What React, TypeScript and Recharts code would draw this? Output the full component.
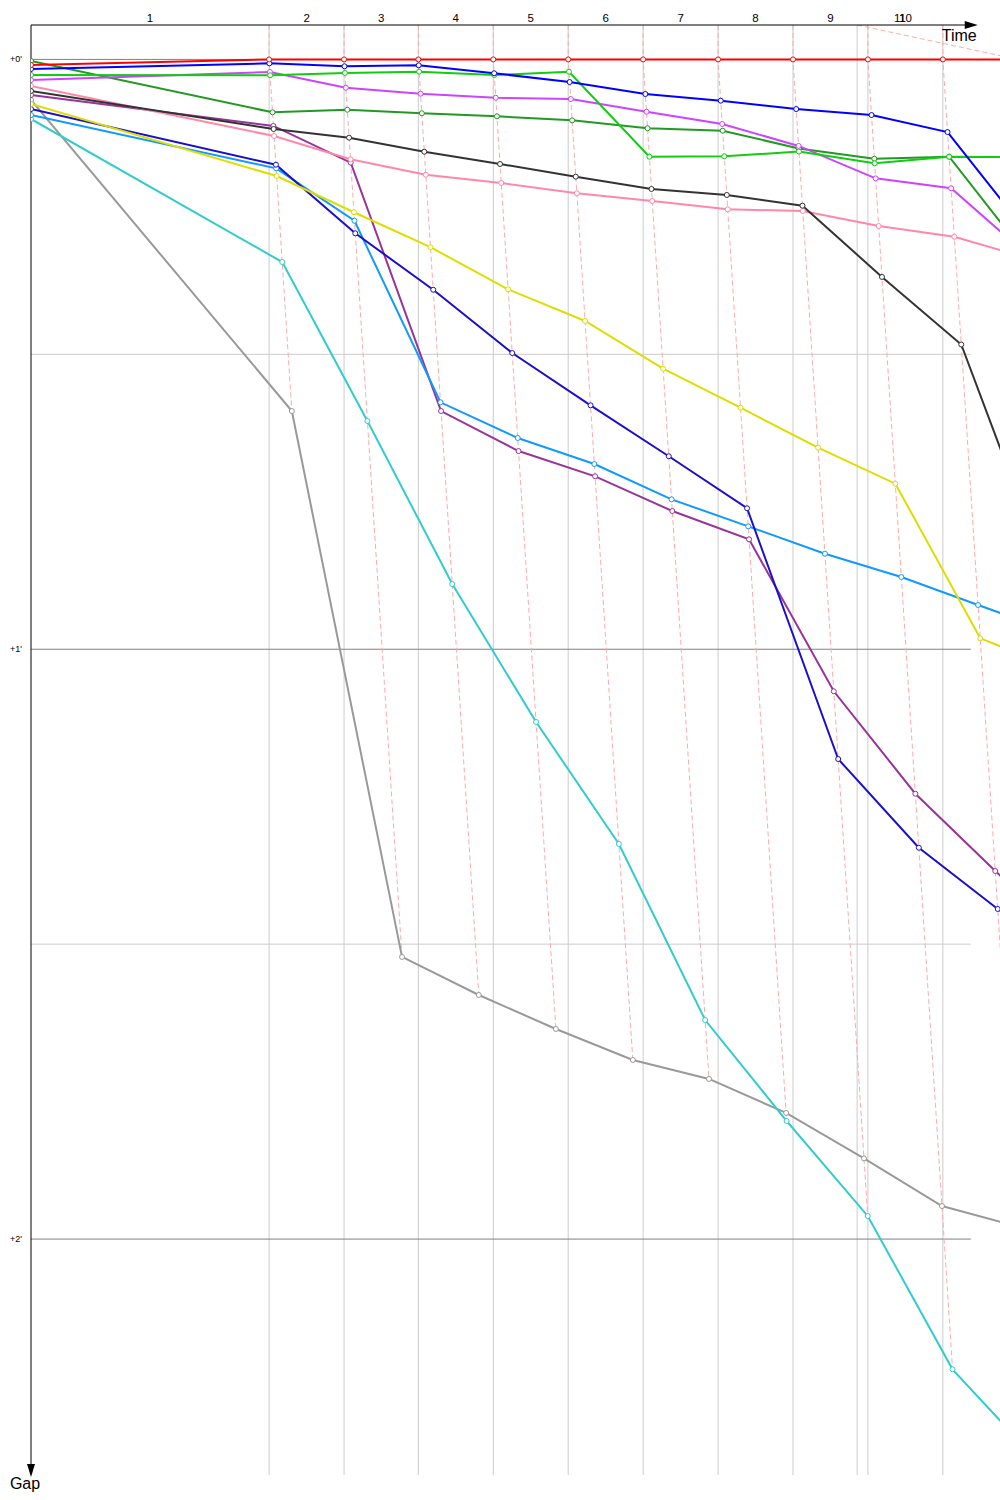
import React from 'react';
import { LineChart, Line, XAxis, YAxis, ReferenceLine } from 'recharts';

// cumulative leader time (s) at the end of each lap (index 0 = start)
const leaderLapTimes = [0, 375, 493, 610, 728, 846, 964, 1082, 1200, 1318, 1436, 1554];
// time at which each lap marker starts on the time axis
const lapMarkTimes = [0, 375, 493, 610, 728, 846, 964, 1082, 1200, 1318, 1436, 1301];
const lapLabels = ['1', '2', '3', '4', '5', '6', '7', '8', '9', '10', '11'];

const gapTicks = [0, 60, 120];
const gapTickLabels = ["+0'", "+1'", "+2'"];
const majorGaps = [0, 60, 120];
const minorGaps = [30, 90];

// gaps to leader (s), index = lap (0 = start)
const gapsRed = [0.57, 0, 0, 0, 0, 0, 0, 0, 0, 0, 0, 0];
const gapsBlue = [0.98, 0.4, 0.7, 0.6, 1.41, 2.3, 3.52, 4.2, 5.05, 5.66, 7.39, 17.9];
const gapsGreen = [1.59, 1.62, 1.38, 1.25, 1.59, 1.25, 9.9, 9.86, 9.37, 10.57, 9.9, 9.95];
const gapsMagenta = [2.1, 1.28, 2.88, 3.49, 3.9, 4.03, 5.32, 6.57, 8.8, 12.1, 13.11, 20.2];
const gapsDarkGreen = [0.16, 5.38, 5.12, 5.48, 5.79, 6.2, 7.0, 7.25, 9.06, 10.1, 9.9, 20.5];
const gapsBlack = [3.21, 7.08, 7.96, 9.39, 10.64, 11.93, 13.18, 13.79, 14.88, 22.13, 29.0, 53.5];
const gapsPink = [2.7, 7.79, 10.16, 11.73, 12.57, 13.62, 14.4, 15.25, 15.42, 16.95, 18.04, 20.3];
const gapsPurple = [3.62, 6.77, 10.5, 35.77, 39.84, 42.41, 45.94, 48.82, 64.28, 74.7, 82.56, 90];
const gapsYellow = [4.54, 11.86, 15.55, 19.1, 23.39, 26.61, 31.46, 35.43, 39.5, 43.16, 58.89, 62.0];
const gapsDarkBlue = [5.05, 10.71, 17.69, 23.43, 29.87, 35.19, 40.37, 45.66, 71.17, 80.19, 86.42, 92];
const gapsLightBlue = [5.66, 11.08, 16.41, 34.88, 38.51, 41.16, 44.75, 47.5, 50.28, 52.65, 55.5, 58.3];
const gapsCyan = [6.06, 20.61, 36.78, 53.37, 67.4, 79.81, 97.72, 107.99, 117.65, 133.25, 142.1];
const gapsGray = [4.13, 35.77, 91.3, 95.17, 98.63, 101.78, 103.71, 107.17, 111.79, 116.64, 118.75];

const seriesGaps = [gapsGray, gapsCyan, gapsPurple, gapsLightBlue, gapsDarkBlue, gapsYellow, gapsPink, gapsBlack, gapsDarkGreen, gapsMagenta, gapsGreen, gapsBlue, gapsRed];
const seriesColors = ['#999999', '#33cccc', '#993399', '#1199ff', '#1a0fcc', '#dddd00', '#ff88aa', '#333333', '#229922', '#cc44ff', '#11cc11', '#0000ff', '#ff0000'];

const X_MIN = 0;
const X_MAX = 1526;
const Y_MIN = -3.5;
const Y_MAX = 144;
const GRID_END = 1480;
const TIME_ARROW_END = 1491;
const GAP_ARROW_END = 144.2;

const FONT = '"Liberation Sans", Arial, sans-serif';

const seriesData = seriesGaps.map((gaps) =>
  gaps.map((g, k) => ({ t: k === 0 ? 0 : leaderLapTimes[k] + g, g }))
);

const connectorData = lapMarkTimes.slice(1).map((mark, i) => {
  const lap = i + 1;
  const pts = seriesGaps
    .filter((gaps) => gaps[lap] !== undefined)
    .map((gaps) => ({ t: leaderLapTimes[lap] + gaps[lap], g: gaps[lap] }))
    .sort((a, b) => a.g - b.g);
  return [{ t: mark, g: Y_MIN }, ...pts];
});

const tickPositions = lapLabels.map((_, i) => (lapMarkTimes[i] + lapMarkTimes[i + 1]) / 2);

const XTick = (props: any) => {
  const { x, payload } = props;
  const idx = tickPositions.indexOf(payload.value);
  return (
    <text x={x} y={22} textAnchor="middle" fontSize={11.5} fontFamily={FONT} fill="#000">
      {lapLabels[idx]}
    </text>
  );
};

const YTick = (props: any) => {
  const { y, payload } = props;
  const idx = gapTicks.indexOf(payload.value);
  return (
    <text x={22} y={y + 3} textAnchor="end" fontSize={9} fontFamily={FONT} fill="#000">
      {gapTickLabels[idx]}
    </text>
  );
};

const TimeArrow = (p: any) => {
  const { x1, y1, x2, y2 } = p;
  return (
    <g>
      <line x1={x1} y1={y1} x2={x2 - 12} y2={y2} stroke="#000" strokeWidth={1} />
      <polygon points={`${x2},${y2} ${x2 - 13},${y2 - 4} ${x2 - 13},${y2 + 4}`} fill="#000" />
      <text x={x2 - 1} y={y2 + 16} textAnchor="end" fontSize={16} fontFamily={FONT} fill="#000">
        Time
      </text>
    </g>
  );
};

const GapArrow = (p: any) => {
  const { x1, y1, x2, y2 } = p;
  return (
    <g>
      <line x1={x1} y1={y1} x2={x2} y2={y2 - 12} stroke="#000" strokeWidth={1} />
      <polygon points={`${x2},${y2} ${x2 - 4},${y2 - 13} ${x2 + 4},${y2 - 13}`} fill="#000" />
      <text x={x2 - 6} y={y2 + 12} textAnchor="middle" fontSize={16} fontFamily={FONT} fill="#000">
        Gap
      </text>
    </g>
  );
};

export default function App() {
  return (
    <div style={{ position: 'absolute', left: 0, top: 0, width: 1000, height: 1500, background: '#fff' }}>
      <LineChart width={1000} height={1500} margin={{ top: 0, right: 0, bottom: 25, left: 0 }}>
        <XAxis
          type="number"
          dataKey="t"
          orientation="top"
          domain={[X_MIN, X_MAX]}
          allowDataOverflow
          ticks={tickPositions}
          interval={0}
          axisLine={false}
          tickLine={false}
          height={25}
          tick={<XTick />}
        />
        <YAxis
          type="number"
          dataKey="g"
          domain={[Y_MIN, Y_MAX]}
          reversed
          allowDataOverflow
          ticks={gapTicks}
          interval={0}
          axisLine={false}
          tickLine={false}
          width={31}
          tick={<YTick />}
        />
        {lapMarkTimes.slice(1).map((t, i) => (
          <ReferenceLine
            key={`v${i}`}
            segment={[{ x: t, y: Y_MIN }, { x: t, y: Y_MAX }]}
            stroke="#cccccc"
            strokeWidth={1}
            ifOverflow="visible"
          />
        ))}
        {minorGaps.map((g, i) => (
          <ReferenceLine
            key={`hm${i}`}
            segment={[{ x: X_MIN, y: g }, { x: GRID_END, y: g }]}
            stroke="#cccccc"
            strokeWidth={1}
            ifOverflow="visible"
          />
        ))}
        {majorGaps.map((g, i) => (
          <ReferenceLine
            key={`hM${i}`}
            segment={[{ x: X_MIN, y: g }, { x: GRID_END, y: g }]}
            stroke="#808080"
            strokeWidth={1}
            ifOverflow="visible"
          />
        ))}
        {connectorData.map((d, i) => (
          <Line
            key={`c${i}`}
            data={d}
            dataKey="g"
            type="linear"
            stroke="#ffaaaa"
            strokeWidth={1}
            strokeDasharray="5 3"
            dot={false}
            activeDot={false}
            isAnimationActive={false}
          />
        ))}
        {seriesData.map((d, i) => (
          <Line
            key={`s${i}`}
            data={d}
            dataKey="g"
            type="linear"
            stroke={seriesColors[i]}
            strokeWidth={2}
            dot={{ r: 2.5, fill: '#ffffff', stroke: seriesColors[i], strokeWidth: 1 }}
            activeDot={false}
            isAnimationActive={false}
          />
        ))}
        <ReferenceLine
          segment={[{ x: X_MIN, y: Y_MIN }, { x: TIME_ARROW_END, y: Y_MIN }]}
          ifOverflow="visible"
          shape={TimeArrow}
        />
        <ReferenceLine
          segment={[{ x: X_MIN, y: Y_MIN }, { x: X_MIN, y: GAP_ARROW_END }]}
          ifOverflow="visible"
          shape={GapArrow}
        />
      </LineChart>
    </div>
  );
}
